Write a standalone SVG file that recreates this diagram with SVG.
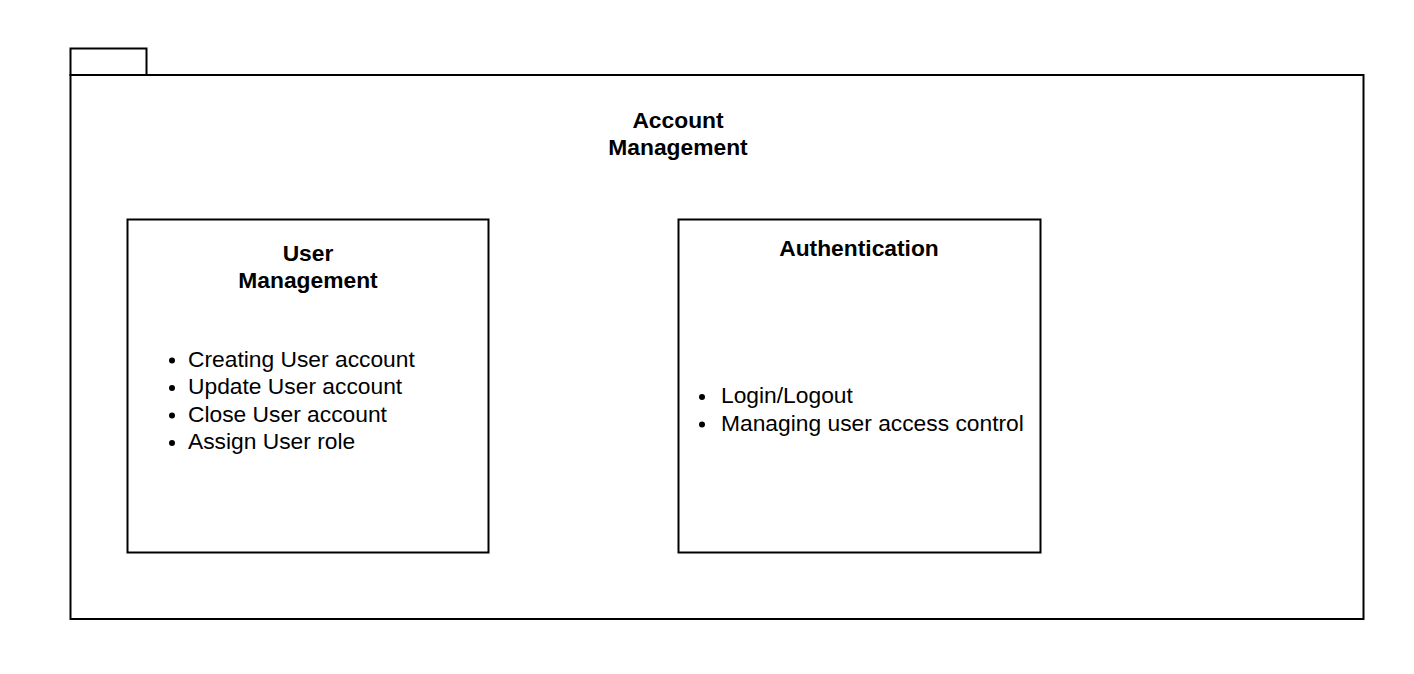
<svg xmlns="http://www.w3.org/2000/svg" width="1414" height="674" viewBox="0 0 1414 674">
<style>
.box{fill:#fff;stroke:#000;stroke-width:2}
.h{font-family:"Liberation Sans",Arial,sans-serif;font-weight:bold;font-size:22.8px;text-anchor:middle;fill:#000}
.t{font-family:"Liberation Sans",Arial,sans-serif;font-size:22.8px;fill:#000}
.b{fill:#000}
</style>
<rect width="1414" height="674" fill="#fff"/>
<g id="account-management">
<rect class="box" x="70.5" y="48.5" width="76" height="26.5"/>
<rect class="box" x="70.5" y="75" width="1293" height="544"/>
<text class="h" x="678" y="127.5">Account</text>
<text class="h" x="678" y="154.5">Management</text>
</g>
<g id="user-management">
<rect class="box" x="127.5" y="219.5" width="361" height="333"/>
<text class="h" x="308" y="261">User</text>
<text class="h" x="308" y="288">Management</text>
<circle class="b" cx="172" cy="360.5" r="3"/>
<circle class="b" cx="172" cy="388" r="3"/>
<circle class="b" cx="172" cy="415.5" r="3"/>
<circle class="b" cx="172" cy="443" r="3"/>
<text class="t" x="188" y="366.5">Creating User account</text>
<text class="t" x="188" y="394">Update User account</text>
<text class="t" x="188" y="421.5">Close User account</text>
<text class="t" x="188" y="449">Assign User role</text>
</g>
<g id="authentication">
<rect class="box" x="678.5" y="219.5" width="362" height="333"/>
<text class="h" x="859" y="256">Authentication</text>
<circle class="b" cx="702" cy="397" r="3"/>
<circle class="b" cx="702" cy="424.5" r="3"/>
<text class="t" x="721" y="403">Login/Logout</text>
<text class="t" x="721" y="430.5">Managing user access control</text>
</g>
<g id="connectors"></g>
</svg>
